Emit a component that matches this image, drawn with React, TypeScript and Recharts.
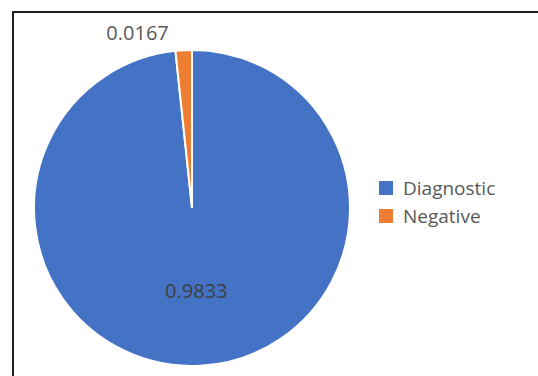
import React from 'react';
import { PieChart, Pie, Cell, Legend } from 'recharts';

const categories = ['Diagnostic', 'Negative'];
const values = [0.9833, 0.0167];
const valueLabels = ['0.9833', '0.0167'];
const colors = ['#4472C4', '#ED7D31'];

const data = categories.map((name, i) => ({ name, value: values[i], label: valueLabels[i] }));

const FONT = '"Open Sans", "Liberation Sans", sans-serif';
const RAD = Math.PI / 180;

const renderLabel = (props: any) => {
  const { cx, cy, midAngle, outerRadius, index } = props;
  const d = data[index];
  if (index === 0) {
    const r = outerRadius * 0.52;
    const x = cx + r * Math.cos(-midAngle * RAD);
    const y = cy + r * Math.sin(-midAngle * RAD);
    return (
      <text x={x} y={y} textAnchor="middle" dominantBaseline="central" fill="#404040" fontSize={20} fontFamily={FONT}>
        {d.label}
      </text>
    );
  }
  const r = outerRadius + 18;
  const x = cx + r * Math.cos(-midAngle * RAD) - 14;
  const y = cy + r * Math.sin(-midAngle * RAD);
  return (
    <text x={x} y={y} textAnchor="end" dominantBaseline="central" fill="#595959" fontSize={20} fontFamily={FONT}>
      {d.label}
    </text>
  );
};

const renderLegend = (props: any) => {
  const { payload } = props;
  return (
    <div style={{ fontFamily: FONT }}>
      {(payload || []).map((entry: any, i: number) => (
        <div key={i} style={{ display: 'flex', alignItems: 'center', height: 28 }}>
          <span style={{ display: 'inline-block', width: 14, height: 14, background: entry.color, marginRight: 10 }} />
          <span style={{ fontSize: 19, color: '#595959', lineHeight: '28px' }}>{entry.value}</span>
        </div>
      ))}
    </div>
  );
};

export default function App() {
  return (
    <div style={{ position: 'absolute', left: 0, top: 0, width: 538, height: 376, background: '#fff', overflow: 'hidden' }}>
      <div
        style={{
          position: 'absolute',
          left: 12,
          top: 11,
          width: 540,
          height: 380,
          borderTop: '2px solid #1e1e1e',
          borderLeft: '2px solid #1e1e1e',
          boxSizing: 'border-box',
        }}
      />
      <div style={{ position: 'absolute', left: 0, top: 0 }}>
        <PieChart width={538} height={376} margin={{ top: 0, right: 0, bottom: 0, left: 0 }}>
          <Pie
            data={data}
            dataKey="value"
            nameKey="name"
            cx={192}
            cy={208}
            outerRadius={158}
            startAngle={90}
            endAngle={-270}
            stroke="#ffffff"
            strokeWidth={2}
            label={renderLabel}
            labelLine={false}
            isAnimationActive={false}
          >
            {data.map((d, i) => (
              <Cell key={d.name} fill={colors[i]} />
            ))}
          </Pie>
          <Legend
            layout="vertical"
            content={renderLegend}
            wrapperStyle={{ left: 379, top: 174, width: 150 }}
          />
        </PieChart>
      </div>
    </div>
  );
}
